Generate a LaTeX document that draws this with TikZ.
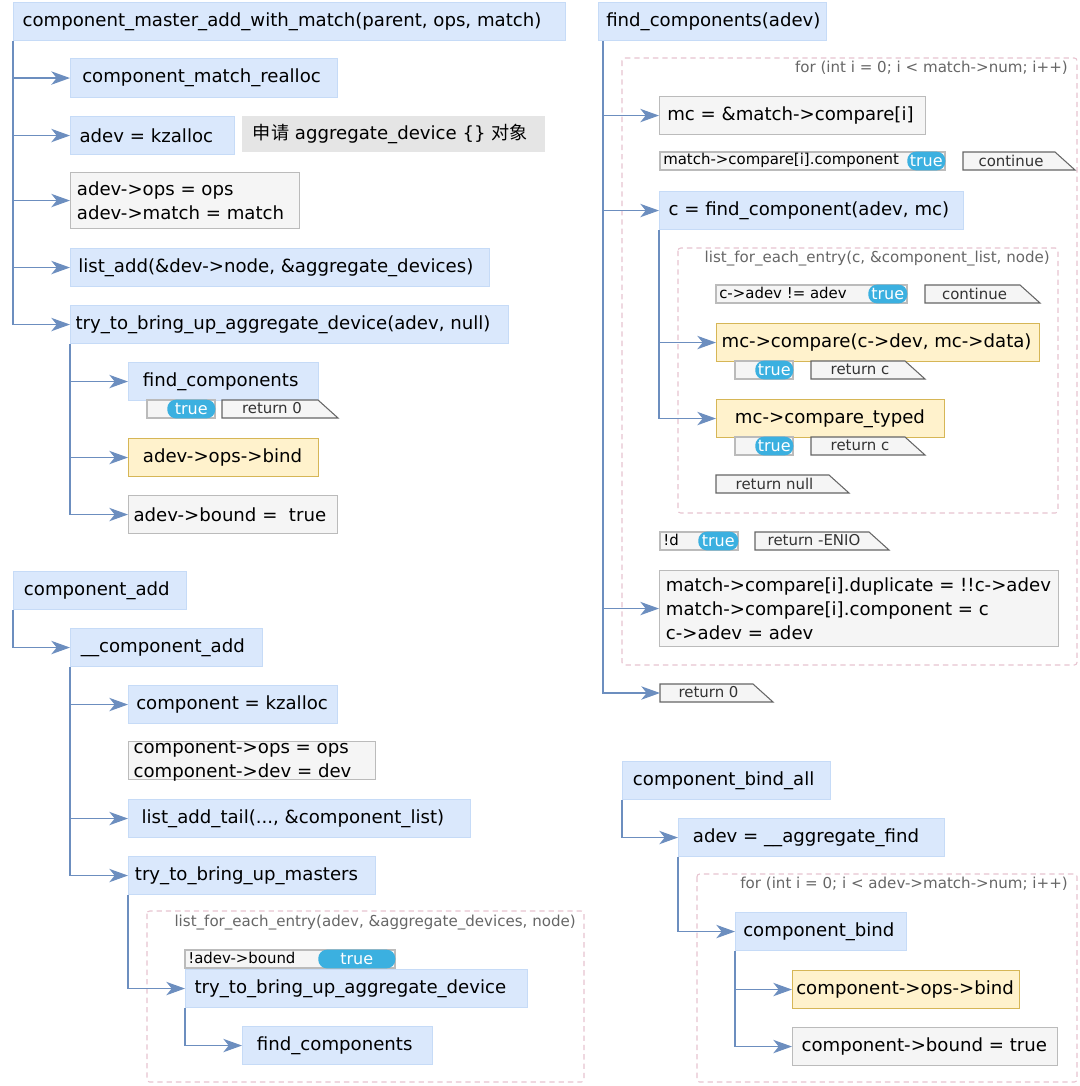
\documentclass[tikz,border=0pt]{standalone}
\usepackage{fontspec}
\setmainfont{DejaVu Sans}
\newfontfamily\cjk{Noto Sans CJK SC}
\usetikzlibrary{arrows.meta}
\definecolor{bfill}{HTML}{DAE8FC}
\definecolor{bline}{HTML}{C6DBF7}
\definecolor{yfill}{HTML}{FFF2CC}
\definecolor{yline}{HTML}{D6B656}
\definecolor{gfill}{HTML}{F5F5F5}
\definecolor{gline}{HTML}{BBBBBB}
\definecolor{tline}{HTML}{6C8EBF}
\definecolor{pill}{HTML}{3BB0E0}
\definecolor{dash}{HTML}{E6C3CF}
\tikzset{
 base/.style={inner sep=0pt},
 bbox/.style={base,fill=bfill,draw=bline,line width=0.8pt},
 ybox/.style={base,fill=yfill,draw=yline,line width=0.8pt},
 gbox/.style={base,fill=gfill,draw=gline,line width=0.8pt},
 note/.style={base,fill=black!10},
 txt/.style={inner sep=0pt,anchor=west,align=left,font=\fontsize{13.6}{18}\selectfont,text=black},
 tree/.style={draw=tline,line width=1.1pt,-{Stealth[length=14pt,width=10pt,inset=4pt]}},
 lbl/.style={font=\fontsize{11.3}{13}\selectfont,text=black!60,anchor=north east,inner sep=0pt},
 small/.style={font=\fontsize{11.2}{13}\selectfont,inner sep=0pt},
 dbox/.style={draw=dash,dashed,line width=0.8pt,dash pattern=on 4pt off 3pt,rounded corners=2pt},
}
\newcommand\bx[8][5]{\node[#2,anchor=north west,minimum width={(#6-#4)*0.75pt},minimum height={(#7-#5)*0.75pt}] (#3) at (#4,#5) {};
 \node[txt] (#3t) at ([xshift=#1pt]#3.west) {#8};}
\newcommand\prow[6]{\draw[fill=gfill,draw=gline,line width=0.8pt] (#2,#3) rectangle (#4,#3+18);
 \node[small,anchor=west] (#1) at (#2+3,#3+8) {#6};
 \node[fill=pill,rounded corners=6.5pt,inner sep=0pt,minimum width={(#4-#5)*0.75pt},minimum height=14pt,text=white,font=\fontsize{12}{12}\selectfont,anchor=west] (#1p) at (#5,#3+9) {true};}
\newcommand\card[5]{\draw[fill=gfill,draw=black!60,line width=0.8pt] (#2,#3)--(#4-20,#3)--(#4,#3+18)--(#2,#3+18)--cycle;
 \node[small,text=black!80] (#1) at ({(#2+#4-16)/2},#3+8.5) {#5};}
\begin{document}
\begin{tikzpicture}[x=0.75pt,y=-0.75pt]
\useasboundingbox (0,0) rectangle (1080,1086);
% ---------- left top
\bx[7]{bbox}{A}{13}{2}{565}{40}{component\_master\_add\_with\_match(parent, ops, match)}
\bx[9]{bbox}{B1}{70}{58}{337}{97}{component\_match\_realloc}
\bx[7]{bbox}{B2}{70}{116}{234}{154}{adev = kzalloc}
\bx[8]{note}{Bn}{242}{116}{545}{152}{{\cjk 申请} aggregate\_device \{\} {\cjk 对象}}
\bx[5]{gbox}{B3}{70}{172}{299}{228}{adev->ops = ops\\adev->match = match}
\bx[6]{bbox}{B4}{70}{248}{489}{286}{list\_add(\&dev->node, \&aggregate\_devices)}
\bx[4]{bbox}{B5}{70}{305}{508}{343}{try\_to\_bring\_up\_aggregate\_device(adev, null)}
\foreach \n in {B1,B2,B3,B4,B5} \draw[tree] (A.south west) |- (\n.west);
\bx[11]{bbox}{C1}{128}{362}{318}{400}{find\_components}
\prow{r1}{147}{400}{215}{167}{}
\card{c1}{222}{400}{338}{return 0}
\bx[11]{ybox}{C2}{128}{438}{318}{476}{adev->ops->bind}
\bx[4]{gbox}{C3}{128}{495}{337}{533}{adev->bound =\ \ true}
\foreach \n in {C1,C2,C3} \draw[tree] (B5.south west) |- (\n.west);
% ---------- left bottom
\bx[8]{bbox}{CA}{13}{571}{186}{609}{component\_add}
\bx[8]{bbox}{D}{70}{628}{262}{666}{\_\_component\_add}
\draw[tree] (CA.south west) |- (D.west);
\bx[6]{bbox}{D1}{128}{685}{337}{723}{component = kzalloc}
\bx[4]{gbox}{D2}{128}{741}{375}{779}{component->ops = ops\\component->dev = dev}
\bx[10]{bbox}{D3}{128}{799}{470}{837}{list\_add\_tail(..., \&component\_list)}
\bx[5]{bbox}{D4}{128}{856}{375}{894}{try\_to\_bring\_up\_masters}
\foreach \n in {D1,D3,D4} \draw[tree] (D.south west) |- (\n.west);
\draw[dbox] (147,911) rectangle (584,1082);
\node[lbl] (L1) at (576,915) {list\_for\_each\_entry(adev, \&aggregate\_devices, node)};
\prow{r2}{185}{950}{395}{318}{!adev->bound}
\bx[7]{bbox}{E1}{185}{969}{527}{1007}{try\_to\_bring\_up\_aggregate\_device}
\draw[tree] (D4.south west) |- (E1.west);
\bx[11]{bbox}{E2}{242}{1026}{432}{1064}{find\_components}
\draw[tree] (E1.south west) |- (E2.west);
% ---------- right top
\bx[6]{bbox}{F}{598}{2}{826}{40}{find\_components(adev)}
\draw[dbox] (622,58) rectangle (1077,665);
\node[lbl] (L2) at (1068,61) {for (int i = 0; i < match->num; i++)};
\bx[6]{gbox}{F1}{659}{96}{925}{134}{mc = \&match->compare[i]}
\prow{r3}{660}{152}{945}{907}{match->compare[i].component}
\card{c3}{963}{152}{1075}{continue}
\bx[7]{bbox}{F2}{659}{191}{963}{229}{c = find\_component(adev, mc)}
\draw[dbox] (678,248) rectangle (1058,513);
\node[lbl] (L3) at (1050,251) {list\_for\_each\_entry(c, \&component\_list, node)};
\prow{r4}{716}{285}{907}{868}{c->adev != adev}
\card{c4}{925}{285}{1040}{continue}
\bx[4]{ybox}{G1}{716}{323}{1039}{361}{mc->compare(c->dev, mc->data)}
\prow{r5}{735}{361}{793}{755}{}
\card{c5}{811}{361}{925}{return c}
\bx[14]{ybox}{G2}{716}{399}{944}{437}{mc->compare\_typed}
\prow{r6}{735}{437}{793}{755}{}
\card{c6}{811}{437}{925}{return c}
\card{c7}{716}{475}{849}{return null}
\foreach \n in {G1,G2} \draw[tree] (F2.south west) |- (\n.west);
\prow{r7}{660}{532}{738}{698}{!d}
\card{c8}{755}{532}{889}{return -ENIO}
\bx[5]{gbox}{F3}{659}{570}{1058}{646}{match->compare[i].duplicate = !!c->adev\\match->compare[i].component = c\\c->adev = adev}
\card{c9}{660}{684}{773}{return 0}
\coordinate (F0) at (660,693);
\foreach \n in {F1,F2,F3} \draw[tree] (F.south west)+(5,0) |- (\n.west);
\draw[tree] (F.south west)+(5,0) |- (F0);
% ---------- right bottom
\bx[8]{bbox}{K}{622}{761}{830}{799}{component\_bind\_all}
\bx[11]{bbox}{H}{678}{818}{944}{856}{adev = \_\_aggregate\_find}
\draw[tree] (K.south west) |- (H.west);
\draw[dbox] (697,874) rectangle (1077,1082);
\node[lbl] (L4) at (1068,877) {for (int i = 0; i < adev->match->num; i++)};
\bx[6]{bbox}{H1}{735}{912}{906}{950}{component\_bind}
\draw[tree] (H.south west) |- (H1.west);
\bx[3]{ybox}{H2}{792}{970}{1019}{1008}{component->ops->bind}
\bx[7]{gbox}{H3}{792}{1027}{1057}{1065}{component->bound = true}
\foreach \n in {H2,H3} \draw[tree] (H1.south west) |- (\n.west);
\end{tikzpicture}
\end{document}
